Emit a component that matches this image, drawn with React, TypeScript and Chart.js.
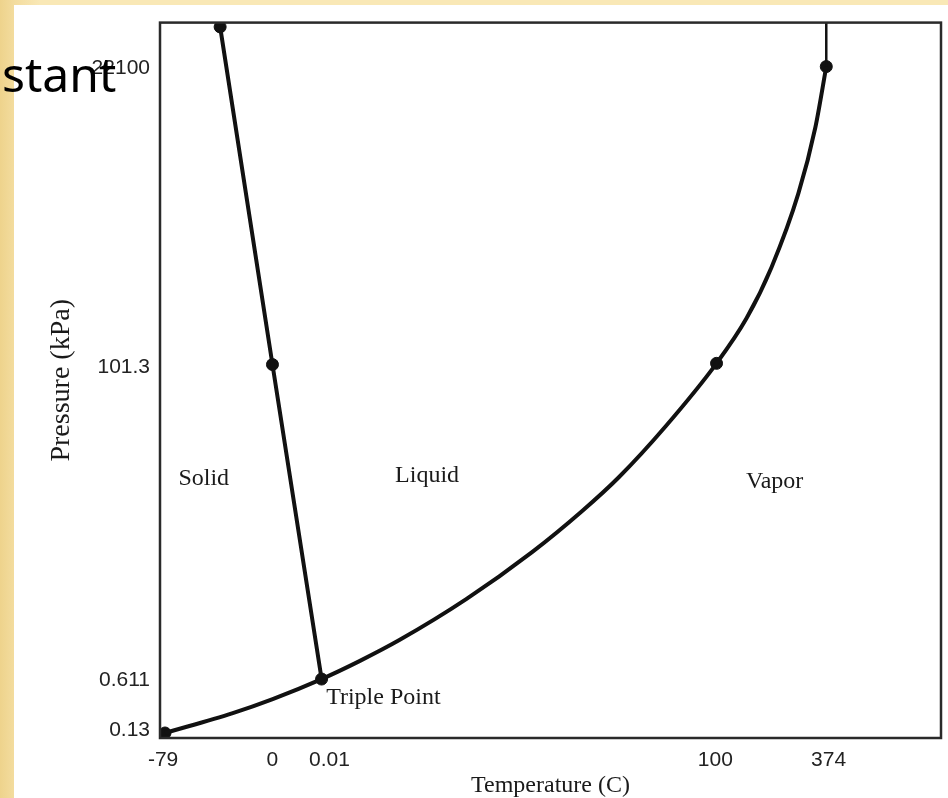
import React, { useEffect, useRef } from "react";
import { Chart, registerables } from "chart.js";

Chart.register(...registerables);

// Schematic axis units (0–100 across the plot box); the diagram is not to scale.
const xTickLabels = ["-79", "0", "0.01", "100", "374"];
const xTickValues = [0.4, 14.4, 21.7, 71.1, 85.6];
const yTickLabels = ["0.13", "0.611", "101.3", "22100"];
const yTickValues = [1.1, 8.1, 51.8, 93.6];

// Sublimation + vaporization curve (from -79 °C up to the critical point)
const vaporCurveX = [0.64, 9.32, 14.43, 20.69, 25.54, 30.65, 39.21, 47.64, 54.02, 58.75, 64.75, 71.26, 75.1, 78.29, 81.74, 83.91, 85.31];
const vaporCurveY = [0.7, 3.49, 5.45, 8.24, 10.75, 13.69, 19.41, 25.98, 31.7, 36.45, 43.58, 52.37, 58.66, 65.78, 76.12, 85.34, 93.85];
// Beyond the critical point
const criticalX = [85.31, 85.31];
const criticalY = [93.85, 100];
// Melting line (solid / liquid)
const meltX = [20.69, 14.4, 7.7];
const meltY = [8.24, 52.2, 99.4];
// Marked points
const markX = [0.64, 20.69, 14.4, 71.26, 85.31, 7.7];
const markY = [0.7, 8.24, 52.2, 52.37, 93.85, 99.4];

// Region labels
const regionNames = ["Solid", "Liquid", "Vapor", "Triple Point"];
const regionX = [5.6, 34.2, 78.7, 28.6];
const regionY = [36.3, 36.7, 35.8, 5.6];

const toPts = (xs: number[], ys: number[]) => xs.map((x, i) => ({ x, y: ys[i] }));

export default function App() {
  const ref = useRef<HTMLCanvasElement | null>(null);

  useEffect(() => {
    if (!ref.current) return;

    const boxPlugin = {
      id: "boxAndLabels",
      afterDatasetsDraw(chart: any) {
        const { ctx, chartArea, scales } = chart;
        ctx.save();
        ctx.strokeStyle = "#2a2a2a";
        ctx.lineWidth = 2.5;
        ctx.strokeRect(chartArea.left, chartArea.top, chartArea.right - chartArea.left, chartArea.bottom - chartArea.top);
        ctx.fillStyle = "#1a1a1a";
        ctx.font = "24px 'Liberation Serif', 'Times New Roman', serif";
        ctx.textAlign = "center";
        ctx.textBaseline = "middle";
        regionNames.forEach((n, i) => {
          ctx.fillText(n, scales.x.getPixelForValue(regionX[i]), scales.y.getPixelForValue(regionY[i]));
        });
        ctx.restore();
      },
    };

    const lineStyle = {
      borderColor: "#111",
      borderWidth: 4,
      pointRadius: 0,
      showLine: true,
      fill: false,
    };

    const chart = new Chart(ref.current, {
      type: "scatter",
      data: {
        datasets: [
          { ...lineStyle, data: toPts(vaporCurveX, vaporCurveY), cubicInterpolationMode: "monotone" },
          { ...lineStyle, data: toPts(criticalX, criticalY), borderWidth: 2.5 },
          { ...lineStyle, data: toPts(meltX, meltY) },
          {
            data: toPts(markX, markY),
            showLine: false,
            pointRadius: 6,
            backgroundColor: "#111",
            borderColor: "#111",
          },
        ] as any,
      },
      options: {
        animation: false,
        responsive: true,
        maintainAspectRatio: false,
        layout: { padding: { left: 0, right: 5, top: 22, bottom: 0 } },
        plugins: { legend: { display: false }, tooltip: { enabled: false } },
        scales: {
          x: {
            type: "linear",
            min: 0,
            max: 100,
            grid: { display: false, drawTicks: false },
            border: { display: false },
            afterBuildTicks: (s: any) => {
              s.ticks = xTickValues.map((v) => ({ value: v }));
            },
            afterFit: (s: any) => {
              s.height = 60;
            },
            ticks: {
              autoSkip: false,
              maxRotation: 0,
              padding: 10,
              color: "#222",
              font: { family: "'Liberation Sans', Arial, sans-serif", size: 21 },
              callback: (v: any) => {
                const i = xTickValues.indexOf(Number(v));
                return i >= 0 ? xTickLabels[i] : "";
              },
            },
            title: {
              display: true,
              text: "Temperature (C)",
              color: "#1a1a1a",
              font: { family: "'Liberation Serif', 'Times New Roman', serif", size: 24 },
              padding: { top: 0, bottom: -2 },
            },
          },
          y: {
            type: "linear",
            min: 0,
            max: 100,
            grid: { display: false, drawTicks: false },
            border: { display: false },
            afterBuildTicks: (s: any) => {
              s.ticks = yTickValues.map((v) => ({ value: v }));
            },
            afterFit: (s: any) => {
              s.width = 160;
            },
            ticks: {
              autoSkip: false,
              padding: 10,
              color: "#222",
              font: { family: "'Liberation Sans', Arial, sans-serif", size: 21 },
              callback: (v: any) => {
                const i = yTickValues.indexOf(Number(v));
                return i >= 0 ? yTickLabels[i] : "";
              },
            },
            title: {
              display: true,
              text: "Pressure (kPa)",
              color: "#1a1a1a",
              font: { family: "'Liberation Serif', 'Times New Roman', serif", size: 28 },
              padding: { top: 45, bottom: 0 },
            },
          },
        },
      },
      plugins: [boxPlugin],
    });

    return () => chart.destroy();
  }, []);

  return (
    <div
      style={{
        position: "fixed",
        left: 0,
        top: 0,
        width: 948,
        height: 798,
        background: "linear-gradient(90deg, #eed38c 0px, #f3dc9e 14px, #f9e8b6 40px)",
        overflow: "hidden",
      }}
    >
      <div style={{ position: "absolute", left: 14, top: 5, right: 0, bottom: 0, background: "#fff" }} />
      <div style={{ position: "absolute", left: 0, top: 0, width: 948, height: 798 }}>
        <canvas ref={ref} />
      </div>
      <div
        style={{
          position: "absolute",
          left: 2,
          top: 44,
          fontFamily: "'Noto Sans', 'Open Sans', sans-serif",
          fontSize: 48,
          lineHeight: "60px",
          color: "#000",
          whiteSpace: "nowrap",
        }}
      >
        stant
      </div>
    </div>
  );
}
